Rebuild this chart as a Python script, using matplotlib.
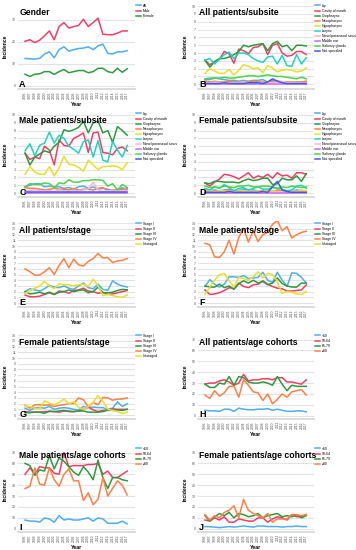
import matplotlib
matplotlib.use("Agg")
import matplotlib.pyplot as plt

plt.rcParams['font.family'] = ['Liberation Sans', 'DejaVu Sans']

years = [str(y) for y in range(1996, 2018)]

# Panel A - Gender
gender_labels = ["All", "Male", "Female"]
gender_all = [12.5, 12.3, 12.2, 12.5, 14.5, 15.5, 12.8, 16.5, 17.8, 15.8, 16.5, 17.0, 17.2, 17.8, 16.5, 18.2, 19.0, 14.8, 14.5, 15.5, 15.5, 16.0]
gender_male = [20.3, 21.0, 19.7, 20.8, 22.8, 25.0, 21.0, 27.0, 28.8, 26.3, 27.0, 27.5, 30.3, 27.0, 28.8, 30.8, 23.5, 23.3, 23.3, 24.0, 25.0, 25.0]
gender_female = [5.3, 4.3, 5.3, 5.5, 6.5, 6.5, 5.2, 6.5, 7.5, 6.0, 6.5, 7.0, 7.0, 6.0, 6.5, 8.0, 8.0, 6.5, 6.0, 8.0, 6.2, 7.8]

subsite_labels = ["Lip", "Cavity of mouth", "Oropharynx", "Nasopharynx", "Hypopharynx", "Larynx",
                  "Nose/paranasal sinus", "Middle ear", "Salivary glands", "Not specified"]

# Panel B - All patients/subsite
b_lip = [0.6, 0.6, 0.8, 0.7, 0.6, 0.5, 0.5, 0.4, 0.5, 0.4, 0.5, 0.5, 0.6, 0.3, 0.5, 0.4, 0.3, 0.2, 0.2, 0.3, 0.3, 0.2]
b_cavity = [3.1, 2.5, 2.9, 3.2, 4.2, 3.9, 2.7, 4.5, 4.3, 3.9, 4.7, 4.8, 5.2, 3.8, 5.0, 5.2, 4.0, 3.6, 3.7, 4.2, 4.2, 3.8]
b_oro = [3.1, 2.2, 2.9, 3.3, 3.3, 3.5, 3.8, 4.2, 5.0, 4.8, 5.0, 5.1, 5.2, 4.3, 5.2, 5.5, 4.8, 5.0, 4.3, 5.0, 5.0, 4.9]
b_naso = [0.4, 0.3, 0.4, 0.3, 0.3, 0.4, 0.3, 0.3, 0.3, 0.3, 0.4, 0.3, 0.3, 0.3, 0.3, 0.4, 0.3, 0.3, 0.3, 0.3, 0.3, 0.4]
b_hypo = [1.4, 2.0, 1.7, 1.4, 1.4, 1.9, 1.2, 1.8, 2.5, 2.3, 2.0, 2.1, 1.5, 2.4, 2.1, 1.6, 1.8, 1.9, 1.8, 1.6, 1.7, 2.1]
b_larynx = [3.1, 3.3, 2.6, 3.2, 3.8, 4.1, 3.3, 4.0, 4.0, 3.8, 3.3, 3.0, 2.8, 3.5, 3.6, 2.6, 3.7, 2.4, 2.3, 3.8, 2.6, 3.4]
b_nose = [0.2, 0.2, 0.3, 0.2, 0.2, 0.2, 0.2, 0.2, 0.3, 0.2, 0.2, 0.2, 0.2, 0.2, 0.2, 0.3, 0.4, 0.2, 0.2, 0.2, 0.2, 0.2]
b_ear = [0.05] * 22
b_saliv = [0.7, 0.8, 0.8, 0.8, 0.9, 0.8, 0.8, 0.9, 1.0, 1.1, 1.1, 1.0, 1.1, 1.2, 1.1, 1.0, 1.0, 0.9, 0.8, 0.7, 0.9, 0.7]
b_ns = [0.1, 0.1, 0.1, 0.1, 0.2, 0.1, 0.1, 0.1, 0.1, 0.2, 0.2, 0.2, 0.1, 0.3, 0.7, 0.4, 0.2, 0.1, 0.1, 0.1, 0.1, 0.1]

# Panel C - Male patients/subsite
c_lip = [0.8, 1.0, 1.2, 1.2, 0.8, 0.9, 0.8, 0.8, 0.6, 0.7, 0.5, 0.8, 0.9, 0.6, 0.8, 0.5, 0.6, 0.5, 0.3, 0.4, 0.7, 0.4]
c_cavity = [5.1, 4.3, 4.6, 4.4, 6.0, 5.5, 3.6, 6.8, 6.1, 6.0, 7.0, 7.3, 7.7, 5.2, 7.7, 7.8, 5.2, 5.1, 4.9, 5.7, 5.9, 5.4]
c_oro = [5.1, 3.6, 4.6, 5.0, 5.4, 5.2, 6.0, 6.5, 8.1, 7.9, 8.1, 8.4, 9.2, 7.7, 9.0, 9.2, 7.7, 8.0, 6.5, 8.5, 8.0, 7.4]
c_naso = [0.7, 0.6, 0.6, 0.5, 0.4, 0.5, 0.6, 0.5, 0.5, 0.4, 0.6, 0.4, 0.5, 0.5, 0.4, 0.6, 0.7, 0.3, 0.4, 0.4, 0.5, 0.6]
c_hypo = [2.4, 3.4, 2.7, 2.4, 2.4, 3.4, 2.2, 3.2, 4.7, 3.7, 3.6, 3.3, 2.8, 4.2, 3.6, 3.0, 3.4, 3.4, 3.5, 3.4, 3.0, 3.9]
c_larynx = [5.4, 6.3, 4.8, 6.1, 6.4, 7.8, 6.4, 7.4, 7.0, 6.0, 5.6, 5.1, 6.6, 6.8, 4.6, 6.7, 4.2, 4.0, 6.6, 5.5, 4.6, 6.1]
c_nose = [0.3, 0.3, 0.4, 0.3, 0.3, 0.3, 0.2, 0.4, 0.3, 0.2, 0.3, 0.3, 0.4, 0.5, 1.4, 0.4, 0.2, 0.3, 0.3, 0.3, 0.3, 0.3]
c_ear = [0.05] * 22
c_saliv = [0.8, 1.2, 1.1, 1.1, 1.3, 1.2, 0.7, 1.3, 1.2, 1.7, 1.4, 1.4, 1.6, 1.6, 1.7, 1.7, 1.6, 0.9, 1.2, 0.4, 1.1, 0.7]
c_ns = [0.1] * 22

# Panel D - Female patients/subsite
d_lip = [0.3, 0.3, 0.4, 0.3, 0.4, 0.5, 0.3, 0.4, 0.5, 0.4, 0.4, 0.3, 0.3, 0.4, 0.3, 0.3, 0.3, 0.2, 0.3, 0.4, 0.3, 0.3]
d_cavity = [1.3, 0.9, 1.4, 1.8, 2.4, 2.3, 2.1, 1.8, 2.2, 2.6, 1.9, 2.2, 2.0, 2.4, 1.9, 2.6, 2.2, 2.3, 1.9, 2.6, 2.6, 2.4]
d_oro = [1.3, 1.2, 1.5, 1.5, 1.4, 1.4, 1.4, 1.3, 1.6, 1.8, 1.6, 1.7, 1.9, 1.9, 1.1, 1.2, 1.9, 1.7, 1.7, 2.2, 1.5, 2.5]
d_naso = [0.4, 0.3, 0.3, 0.3, 0.3, 0.4, 0.3, 0.2, 0.3, 0.3, 0.2, 0.3, 0.3, 0.3, 0.2, 0.4, 0.3, 0.2, 0.2, 0.2, 0.3, 0.3]
d_hypo = [0.2, 0.3, 0.2, 0.3, 0.3, 0.2, 0.2, 0.4, 0.3, 0.3, 0.2, 0.3, 0.2, 0.4, 0.3, 0.2, 0.2, 0.3, 0.3, 0.2, 0.4, 0.3]
d_larynx = [0.6, 0.4, 0.8, 0.6, 1.1, 0.7, 0.3, 0.6, 0.7, 0.4, 0.6, 0.8, 0.5, 0.5, 0.7, 0.6, 0.5, 0.3, 0.4, 0.9, 1.0, 0.6]
d_nose = [0.1] * 22
d_ear = [0.05] * 22
d_saliv = [0.9, 0.7, 0.8, 0.7, 0.9, 0.8, 0.7, 0.9, 0.9, 1.0, 0.8, 0.8, 0.9, 0.9, 0.8, 0.6, 0.8, 0.7, 0.9, 0.8, 0.7, 0.8]
d_ns = [0.1, 0.1, 0.1, 0.1, 0.1, 0.2, 0.1, 0.1, 0.1, 0.1, 0.1, 0.1, 0.2, 0.1, 0.8, 1.5, 0.4, 0.2, 0.1, 0.1, 0.1, 0.1]

stage_labels = ["Stage I", "Stage II", "Stage III", "Stage IV", "Unstaged"]

# Panel E - All patients/stage
e_s1 = [2.0, 2.5, 2.3, 2.1, 2.5, 3.1, 2.8, 2.7, 3.0, 2.6, 2.4, 3.0, 3.5, 2.7, 2.5, 3.3, 2.4, 2.2, 3.9, 3.3, 3.0, 2.8]
e_s2 = [1.4, 1.1, 1.1, 1.2, 1.5, 1.8, 1.5, 2.1, 2.0, 1.7, 2.2, 2.3, 2.6, 2.1, 2.0, 1.7, 1.9, 1.5, 1.6, 1.8, 2.0, 2.2]
e_s3 = [2.0, 1.6, 1.7, 1.9, 1.6, 1.9, 1.5, 1.9, 2.0, 2.3, 2.0, 2.2, 2.3, 1.8, 2.0, 2.8, 1.8, 1.8, 1.9, 2.2, 2.4, 2.3]
e_s4 = [6.0, 5.5, 4.9, 4.9, 5.5, 6.2, 5.0, 6.6, 7.8, 6.2, 7.7, 6.7, 6.5, 7.3, 7.8, 8.7, 7.9, 8.0, 7.1, 7.4, 7.5, 7.8]
e_un = [1.7, 2.1, 2.6, 3.0, 3.8, 3.0, 2.5, 3.4, 3.2, 3.2, 3.0, 3.2, 3.3, 2.9, 4.2, 3.0, 1.3, 1.5, 1.3, 1.1, 1.0, 1.4]

# Panel F - Male patients/stage
f_s1 = [2.9, 4.1, 3.3, 2.8, 3.3, 4.6, 4.6, 4.5, 4.8, 4.3, 4.4, 4.5, 5.4, 4.0, 3.6, 5.4, 4.0, 2.9, 5.3, 5.2, 4.5, 3.5]
f_s2 = [2.3, 1.5, 1.6, 1.8, 2.2, 2.7, 2.5, 3.5, 2.9, 2.7, 3.2, 3.3, 3.9, 3.3, 2.9, 2.6, 2.5, 2.1, 2.1, 2.2, 2.3, 3.2]
f_s3 = [3.0, 2.8, 2.8, 3.3, 2.7, 3.0, 2.4, 3.4, 3.9, 3.5, 4.0, 3.5, 3.8, 3.2, 3.5, 4.4, 3.4, 3.0, 2.8, 2.8, 3.5, 3.5]
f_s4 = [10.5, 10.2, 8.1, 8.0, 9.0, 11.0, 8.6, 11.5, 13.1, 10.7, 12.7, 10.8, 12.0, 12.4, 13.8, 14.5, 12.7, 13.4, 11.4, 12.0, 12.4, 12.6]
f_un = [1.5, 2.8, 4.0, 5.0, 5.2, 3.9, 2.8, 4.5, 4.3, 4.0, 4.6, 5.5, 4.4, 5.2, 5.0, 3.8, 1.7, 2.0, 1.9, 1.6, 1.5, 2.0]

# Panel G - Female patients/stage
g_s1 = [1.2, 0.8, 1.3, 1.3, 1.2, 1.5, 1.0, 1.2, 1.3, 1.2, 1.0, 0.9, 1.5, 1.3, 1.4, 1.3, 1.3, 1.0, 1.2, 2.3, 1.5, 2.0]
g_s2 = [0.6, 0.5, 0.5, 0.5, 0.6, 0.6, 0.6, 0.5, 0.7, 0.7, 0.6, 0.7, 1.0, 1.4, 0.9, 0.6, 0.8, 0.8, 1.1, 1.0, 1.0, 1.0]
g_s3 = [0.4, 0.4, 0.5, 0.5, 0.3, 0.7, 0.6, 0.7, 0.8, 0.6, 0.6, 0.7, 0.7, 0.5, 0.5, 0.5, 0.6, 0.9, 0.8, 0.9, 0.8, 1.0]
g_s4 = [1.7, 1.2, 1.8, 1.8, 1.7, 1.8, 1.5, 1.7, 1.8, 2.0, 2.0, 3.0, 2.7, 1.4, 2.2, 1.8, 3.1, 3.0, 2.6, 2.8, 2.8, 3.0]
g_un = [1.6, 1.5, 1.2, 1.1, 2.5, 2.1, 1.8, 2.2, 2.8, 2.0, 2.3, 1.4, 1.0, 1.5, 2.2, 3.4, 2.4, 1.0, 0.8, 0.6, 0.3, 0.5]

age_labels = ["<50", "50-64", "65-79", "\u226580"]

# Panel H - All patients/age cohorts
h_a1 = [5, 4.5, 4.5, 4, 6, 6, 4, 7, 6, 5.5, 5.5, 6, 6, 6.5, 5, 6, 5, 4, 4, 4.5, 4.5, 3.5]
h_a2 = [29, 30, 30, 32, 33, 31, 28, 30, 38, 32, 33, 33, 34, 34, 33, 35, 35, 31, 31, 30, 29, 33]
h_a3 = [29, 26, 26, 30, 29, 36, 28, 36, 35, 31, 30, 30, 31, 30, 28, 36, 29, 23, 28, 27, 27, 27]
h_a4 = [19, 16, 23, 18, 21, 27, 27, 17, 33, 28, 22, 21, 14, 20, 11, 15, 20, 17, 22, 23, 24, 19]

# Panel I - Male patients/age cohorts
i_a1 = [8, 7, 7, 6, 10, 9, 6, 12, 8, 9, 8, 8, 9, 10, 7, 10, 9, 5, 5, 5, 7, 4.5]
i_a2 = [50, 56, 50, 57, 56, 56, 51, 50, 70, 57, 58, 58, 58, 59, 59, 60, 50, 53, 47, 47, 50, 53]
i_a3 = [60, 58, 49, 54, 53, 67, 55, 65, 62, 57, 52, 49, 57, 52, 45, 63, 47, 37, 47, 47, 45, 44]
i_a4 = [37, 39, 56, 41, 40, 56, 45, 39, 50, 55, 44, 44, 26, 33, 22, 27, 47, 30, 37, 44, 40, 31]

# Panel J - Female patients/age cohorts
j_a1 = [2, 1.8, 1.5, 1, 1.5, 2, 1.5, 2, 2.5, 2, 1.5, 2.5, 2.5, 2, 2, 2, 1.5, 2, 2, 2.5, 2, 2]
j_a2 = [8, 7, 10, 8, 11, 6, 6, 9, 8, 7, 7, 10, 10, 6, 9, 11, 10, 8, 13, 11, 11, 13]
j_a3 = [12, 7, 11, 14, 12, 15, 10, 14, 13, 11, 12, 14, 10, 12, 13, 14, 11, 12, 11, 13, 10, 12]
j_a4 = [13, 8, 12, 10, 15, 17, 21, 10, 27, 17, 14, 12, 10, 14, 6, 9, 9, 9, 13, 13, 12, 13]

# ---- styling ----
C_BLUE = "#4DAEF2"
C_RED = "#F23E66"
C_DGREEN = "#2E9A3E"
C_ORANGE = "#FF7F45"
C_YELLOW = "#E8E028"
C_TURQ = "#1FD3C0"
C_PINK = "#FFB3D9"
C_VIOLET = "#CC66FF"
C_LGREEN = "#4CD24C"
C_NAVY = "#3F5FD6"

gender_colors = [C_BLUE, C_RED, C_DGREEN]
subsite_colors = [C_BLUE, C_RED, C_DGREEN, C_ORANGE, C_YELLOW, C_TURQ, C_PINK, C_VIOLET, C_LGREEN, C_NAVY]
stage_colors = [C_BLUE, C_RED, C_DGREEN, C_ORANGE, C_YELLOW]
age_colors = [C_BLUE, C_RED, C_DGREEN, C_ORANGE]

W, H = 356, 550
fig = plt.figure(figsize=(W / 100, H / 100), dpi=100)

col_left = [18, 198]
col_right = [135, 314]
row_bottom = [89, 197, 307, 419, 532]
AX_H = 86


def panel(col, row, title, letter, series, labels, colors, ylim, yticks):
    l = col_left[col]
    r = col_right[col]
    b = row_bottom[row]
    ax = fig.add_axes([l / W, 1 - b / H, (r - l) / W, AX_H / H])
    x = list(range(len(years)))
    for s, lab, c in zip(series, labels, colors):
        ax.plot(x, s, color=c, lw=1.1, label=lab)
    ax.set_xlim(-1.45, len(years) - 1 + 1.6)
    ax.set_ylim(*ylim)
    ax.set_yticks(yticks)
    ax.set_xticks(x)
    ax.set_xticklabels(years, rotation=90)
    ax.tick_params(axis='both', length=0, labelsize=2.4, colors='#555555', pad=1.5)
    ax.grid(axis='y', color='#E3E3E3', lw=0.8)
    ax.set_axisbelow(True)
    for sp in ['top', 'right', 'left']:
        ax.spines[sp].set_visible(False)
    ax.spines['bottom'].set_color('#D5D5D5')
    ax.spines['bottom'].set_linewidth(1.2)
    ax.set_xlabel("Year", fontsize=3.8, fontweight='bold', labelpad=2.5)
    ax.set_ylabel("Incidence", fontsize=3.6, fontweight='bold', labelpad=3)
    ax.text(0.01, 0.94, title, transform=ax.transAxes, fontsize=6.2, fontweight='bold',
            va='top', ha='left', color='black')
    ax.text(0.01, 0.0, letter, transform=ax.transAxes, fontsize=6.5, fontweight='bold',
            va='bottom', ha='left', color='black')
    ax.legend(loc='upper left', bbox_to_anchor=(1.005, 1.0), fontsize=2.5, frameon=False,
              handlelength=1.4, labelspacing=0.3, handletextpad=0.4, borderaxespad=0.0,
              borderpad=0.2)
    return ax


panel(0, 0, "Gender", "A", [gender_all, gender_male, gender_female], gender_labels, gender_colors,
      (-1.4, 37.7), [0, 10, 20, 30])
panel(1, 0, "All patients/subsite", "B",
      [b_lip, b_cavity, b_oro, b_naso, b_hypo, b_larynx, b_nose, b_ear, b_saliv, b_ns],
      subsite_labels, subsite_colors, (-0.6, 10.4), list(range(11)))
panel(0, 1, "Male patients/subsite", "C",
      [c_lip, c_cavity, c_oro, c_naso, c_hypo, c_larynx, c_nose, c_ear, c_saliv, c_ns],
      subsite_labels, subsite_colors, (-0.5, 10.5), list(range(11)))
panel(1, 1, "Female patients/subsite", "D",
      [d_lip, d_cavity, d_oro, d_naso, d_hypo, d_larynx, d_nose, d_ear, d_saliv, d_ns],
      subsite_labels, subsite_colors, (-0.5, 10.5), list(range(11)))
panel(0, 2, "All patients/stage", "E", [e_s1, e_s2, e_s3, e_s4, e_un], stage_labels, stage_colors,
      (-0.7, 14.4), list(range(15)))
panel(1, 2, "Male patients/stage", "F", [f_s1, f_s2, f_s3, f_s4, f_un], stage_labels, stage_colors,
      (-0.7, 14.4), list(range(15)))
panel(0, 3, "Female patients/stage", "G", [g_s1, g_s2, g_s3, g_s4, g_un], stage_labels, stage_colors,
      (-0.7, 14.4), list(range(15)))
panel(1, 3, "All patients/age cohorts", "H", [h_a1, h_a2, h_a3, h_a4], age_labels, age_colors,
      (-3, 76), list(range(0, 71, 10)))
panel(0, 4, "Male patients/age cohorts", "I", [i_a1, i_a2, i_a3, i_a4], age_labels, age_colors,
      (-3, 76), list(range(0, 71, 10)))
panel(1, 4, "Female patients/age cohorts", "J", [j_a1, j_a2, j_a3, j_a4], age_labels, age_colors,
      (-3, 76), list(range(0, 71, 10)))

fig.savefig("out.png", dpi=100, facecolor='white')
